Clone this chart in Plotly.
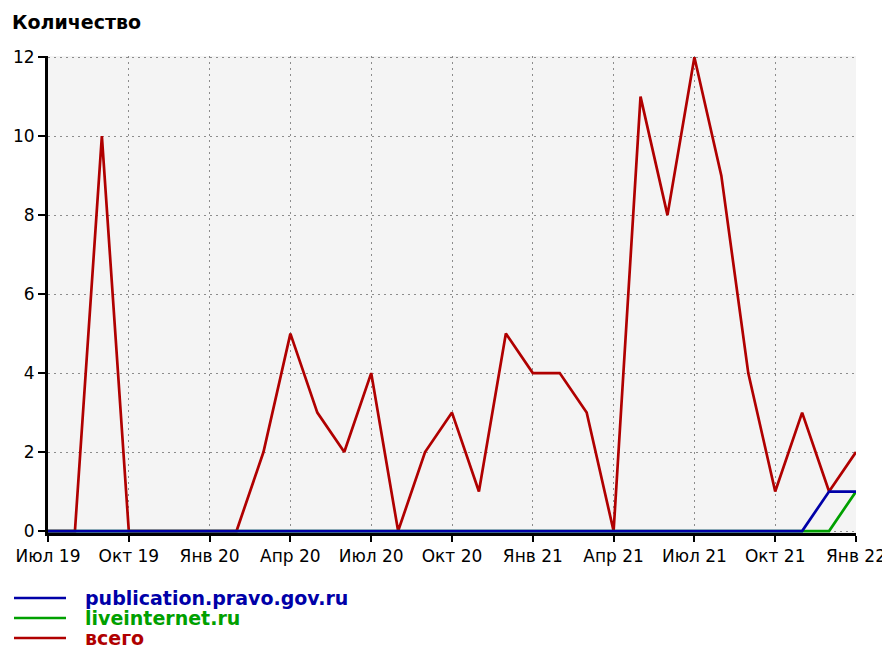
import plotly.graph_objects as go

months = ["2019-07","2019-08","2019-09","2019-10","2019-11","2019-12",
          "2020-01","2020-02","2020-03","2020-04","2020-05","2020-06",
          "2020-07","2020-08","2020-09","2020-10","2020-11","2020-12",
          "2021-01","2021-02","2021-03","2021-04","2021-05","2021-06",
          "2021-07","2021-08","2021-09","2021-10","2021-11","2021-12",
          "2022-01"]
total = [0,0,10,0,0,0, 0,0,2,5,3,2, 4,0,2,3,1,5, 4,4,3,0,11,8, 12,9,4,1,3,1, 2]
liveinternet = [0]*30 + [1]
publication = [0]*29 + [1,1]

tick_vals = months[::3]
tick_text = ["Июл 19","Окт 19","Янв 20","Апр 20","Июл 20","Окт 20",
             "Янв 21","Апр 21","Июл 21","Окт 21","Янв 22"]

series = [("всего", total, "#b00000"),
          ("liveinternet.ru", liveinternet, "#00a000"),
          ("publication.pravo.gov.ru", publication, "#0000a8")]

fig = go.Figure()
for name, vals, col in series:
    fig.add_trace(go.Scatter(x=months, y=vals, mode="lines", name=name,
                             line=dict(color=col, width=2.7), showlegend=False))

# page body has an 8px margin: work in figure coordinates (window - 8)
OFF = 8
W, H = 890 - OFF, 649 - OFF
L, R, T, B = 48 - OFF, 856 - OFF, 56 - OFF, 533 - OFF
def px(x): return (x - OFF - L) / (R - L)
def py(y): return (B - (y - OFF)) / (B - T)

legend_items = [("publication.pravo.gov.ru", "#0000a8", 598),
                ("liveinternet.ru", "#00a000", 618),
                ("всего", "#b00000", 638)]
for txt, col, yy in legend_items:
    fig.add_shape(type="line", xref="paper", yref="paper",
                  x0=px(14), x1=px(66), y0=py(yy), y1=py(yy),
                  line=dict(color=col, width=2.5))
    fig.add_annotation(xref="paper", yref="paper", x=px(83), y=py(yy),
                       xanchor="left", yanchor="middle", showarrow=False,
                       text="<b>" + txt + "</b>",
                       font=dict(family="DejaVu Sans", size=19, color=col))

fig.update_layout(
    width=W, height=H,
    margin=dict(l=L, r=W - R, t=T, b=H - B, autoexpand=False),
    paper_bgcolor="white", plot_bgcolor="#f4f4f4",
    title=dict(text="<b>Количество</b>", x=(12 - OFF) / W, xanchor="left",
               y=1 - (22 - OFF) / H, yanchor="middle",
               font=dict(family="DejaVu Sans", size=19, color="black")),
    font=dict(family="DejaVu Sans", size=16, color="black"),
    showlegend=False,
)
fig.update_xaxes(type="category", range=[0, 30], tickvals=tick_vals, ticktext=tick_text,
                 automargin=False,
                 showgrid=True, gridcolor="#8c8c8c", griddash="2px,4px", gridwidth=1,
                 showline=True, linecolor="black", linewidth=3,
                 ticks="outside", ticklen=6, tickwidth=2, tickcolor="black",
                 tickfont=dict(size=17), zeroline=False)
fig.update_yaxes(range=[-0.05, 12.03], tickvals=[0, 2, 4, 6, 8, 10, 12],
                 automargin=False,
                 showgrid=True, gridcolor="#8c8c8c", griddash="2px,4px", gridwidth=1,
                 showline=True, linecolor="black", linewidth=3,
                 ticks="outside", ticklen=7, tickwidth=2, tickcolor="black",
                 tickfont=dict(size=17), zeroline=False)

fig.write_html("out.html")
